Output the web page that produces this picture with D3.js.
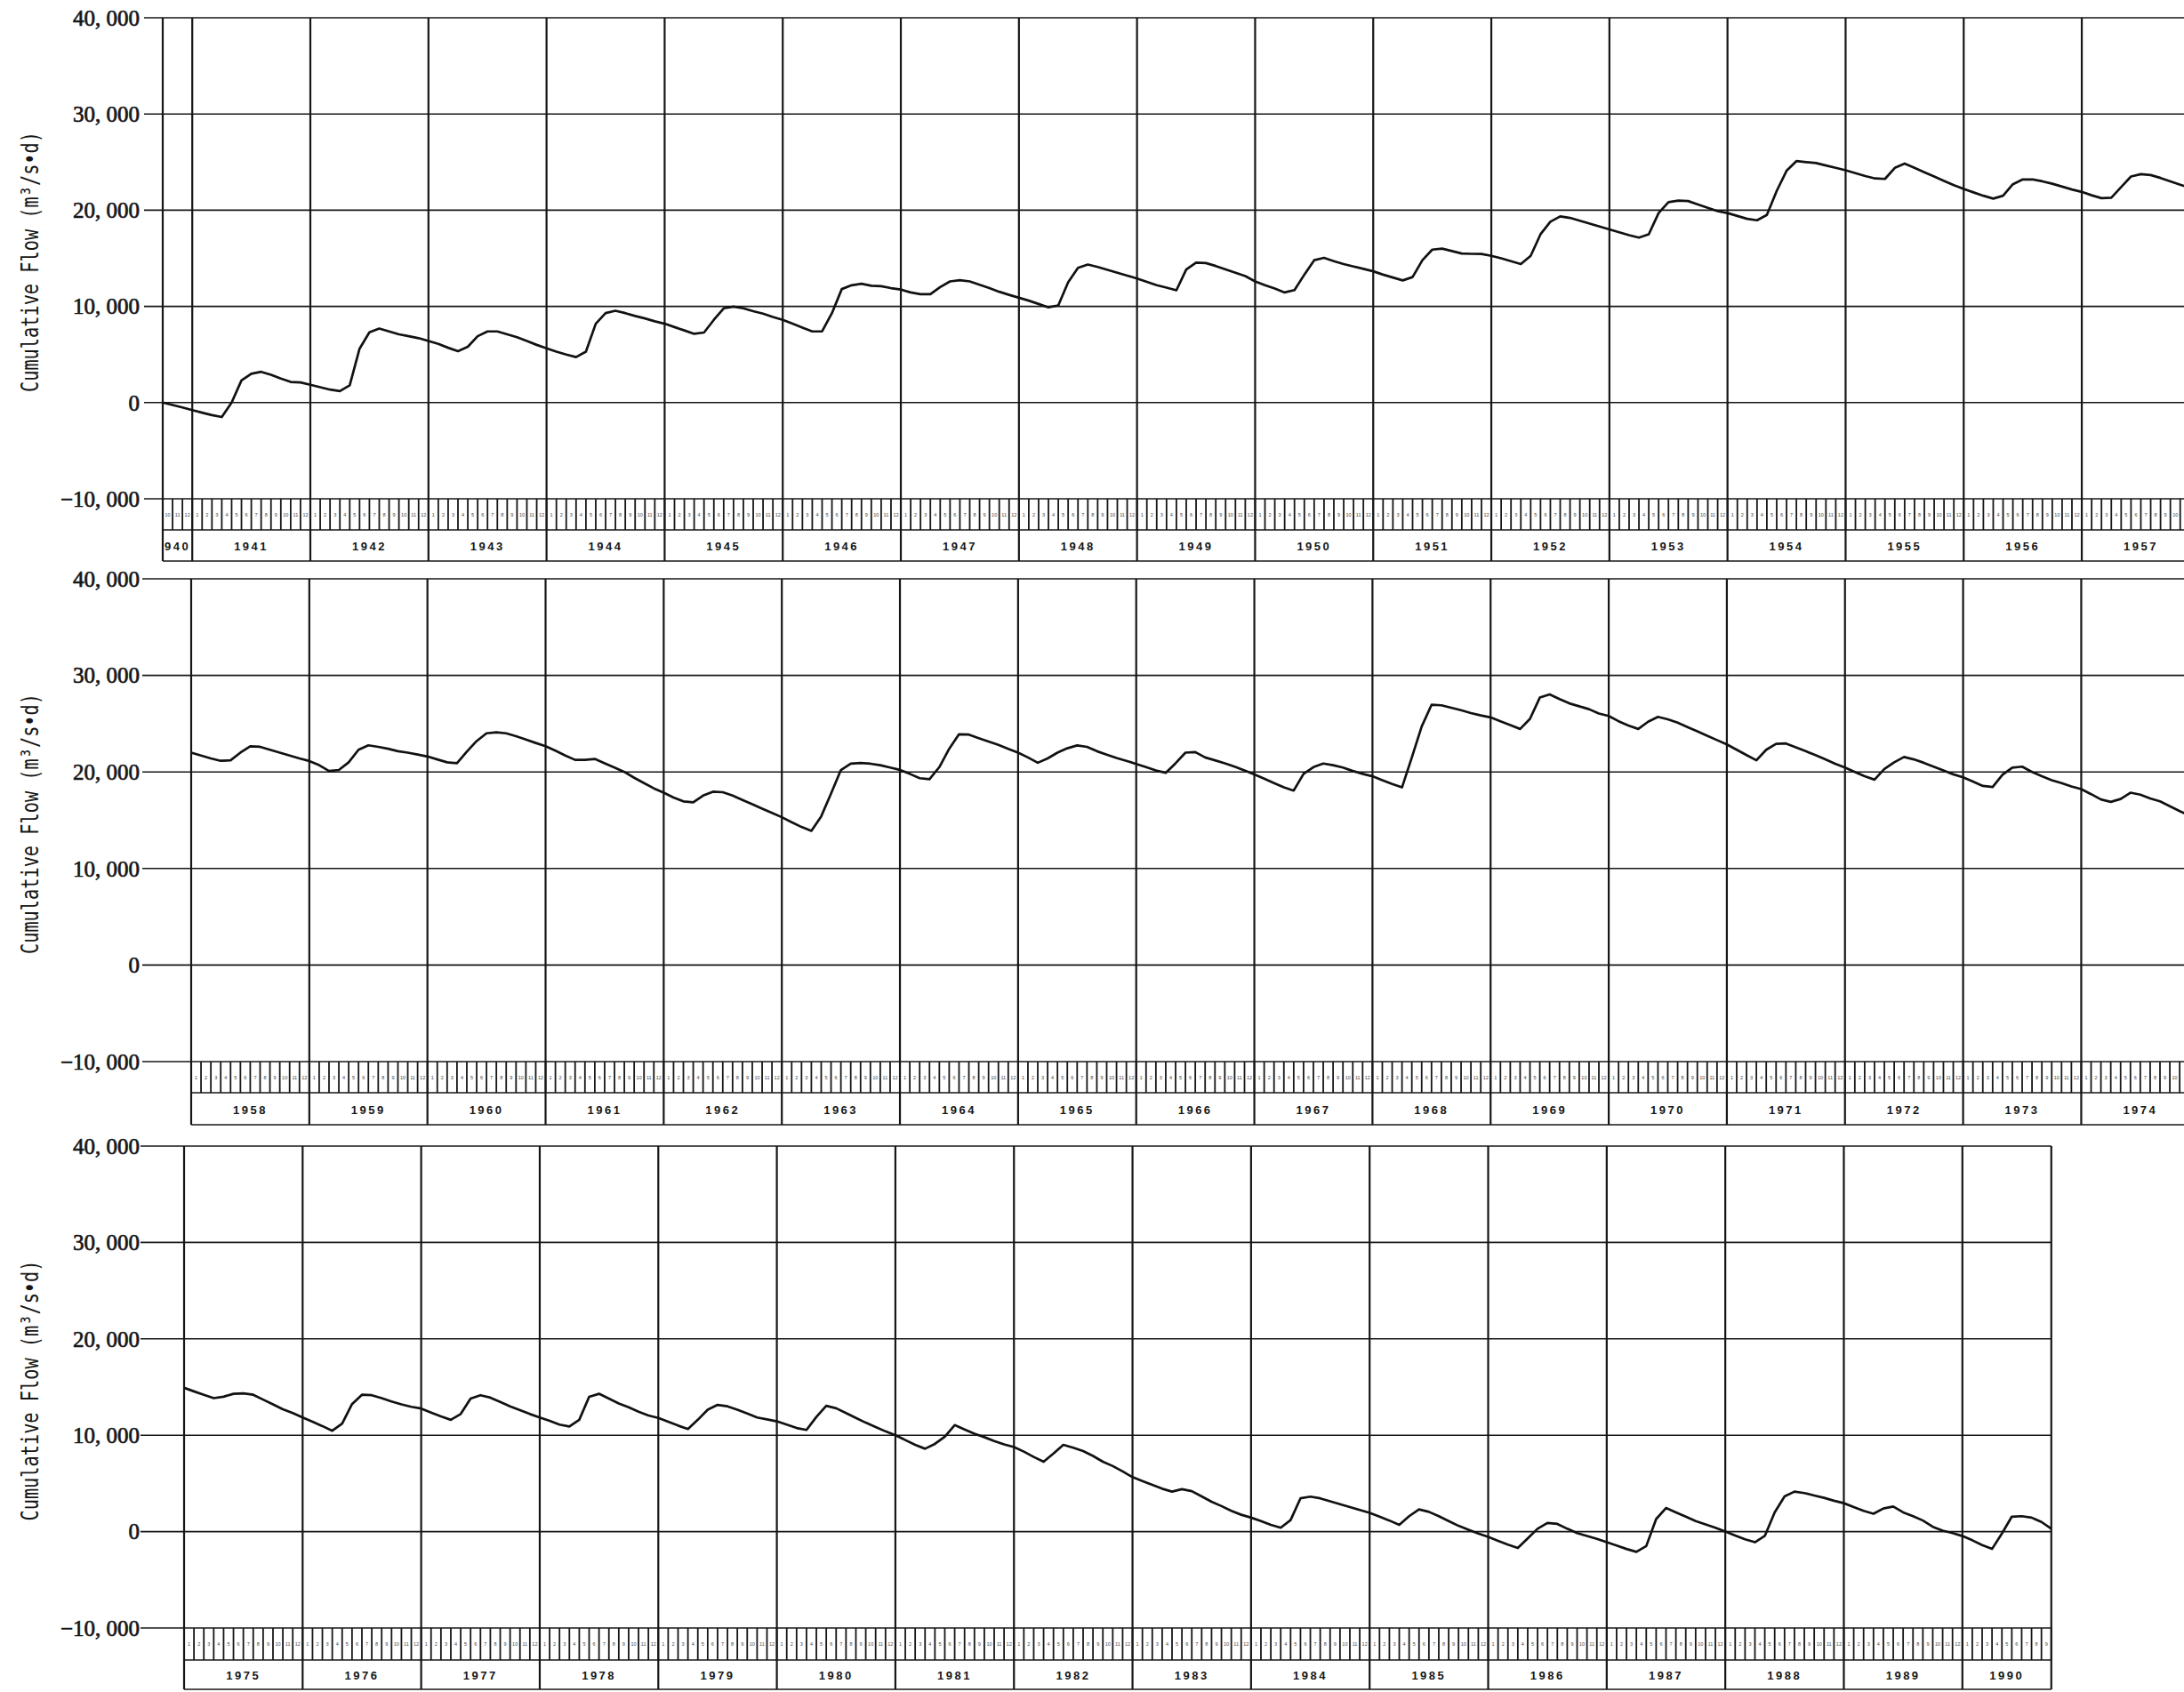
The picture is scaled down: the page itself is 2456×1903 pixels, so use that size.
<!DOCTYPE html>
<html>
<head>
<meta charset="utf-8">
<script src="https://cdn.jsdelivr.net/npm/d3@7"></script>
<style>
  html, body { margin: 0; padding: 0; background: #fff; }
  svg { display: block; }
</style>
</head>
<body>
<svg id="chart"></svg>
<script>
// Cumulative flow (m³/s·d), one value per month boundary.
// Panel 1: 1 Oct 1940 … 1 Jan 1958
const flow1940to1957 = [
  0, -250, -500,
  -780, -1050, -1300, -1500, 0, 2300, 3000, 3200, 2900, 2500, 2150, 2100,          // 1941
  1850, 1600, 1350, 1200, 1800, 5600, 7300, 7700, 7400, 7100, 6900, 6700,          // 1942
  6400, 6100, 5700, 5350, 5800, 6900, 7400, 7400, 7100, 6800, 6400, 6000,          // 1943
  5650, 5300, 5000, 4730, 5300, 8200, 9300, 9550, 9300, 9000, 8750, 8450,          // 1944
  8200, 7850, 7500, 7150, 7280, 8600, 9800, 9970, 9800, 9500, 9250, 8900,          // 1945
  8600, 8200, 7800, 7400, 7400, 9300, 11800, 12200, 12350, 12150, 12100, 11900,    // 1946
  11750, 11450, 11270, 11270, 12000, 12600, 12720, 12600, 12250, 11900, 11520, 11200, // 1947
  10900, 10600, 10250, 9900, 10100, 12500, 14000, 14350, 14100, 13800, 13500, 13200,  // 1948
  12900, 12550, 12200, 11950, 11670, 13830, 14550, 14500, 14200, 13850, 13500, 13150, // 1949
  12600, 12200, 11850, 11450, 11700, 13300, 14800, 15050, 14700, 14400, 14150, 13900, // 1950
  13650, 13300, 13000, 12700, 13050, 14800, 15900, 16000, 15750, 15500, 15460, 15450, // 1951
  15250, 15000, 14700, 14400, 15250, 17500, 18800, 19350, 19200, 18900, 18600, 18300, // 1952
  18000, 17700, 17400, 17150, 17500, 19700, 20830, 20990, 20950, 20600, 20250, 19900, // 1953
  19700, 19400, 19100, 18950, 19500, 22000, 24100, 25100, 25000, 24900, 24650, 24400, // 1954
  24150, 23850, 23550, 23300, 23250, 24400, 24850, 24400, 23950, 23500, 23050, 22600, // 1955
  22200, 21850, 21500, 21200, 21500, 22700, 23200, 23200, 23000, 22750, 22450, 22150, // 1956
  21900, 21550, 21250, 21300, 22400, 23500, 23750, 23650, 23350, 23000, 22650, 22300, // 1957
  22000
];

// Panel 2: 1 Jan 1958 … 1 Jan 1975
const flow1958to1974 = [
  22000, 21700, 21400, 21150, 21200, 22000, 22650, 22600, 22300, 22000, 21700, 21400, // 1958
  21130, 20700, 20100, 20200, 21000, 22300, 22760, 22600, 22400, 22150, 22000, 21800, // 1959
  21600, 21300, 21000, 20900, 22100, 23200, 24000, 24100, 24000, 23700, 23350, 23000, // 1960
  22670, 22200, 21700, 21250, 21250, 21350, 20900, 20450, 20000, 19400, 18850, 18300, // 1961
  17850, 17350, 16950, 16850, 17550, 17950, 17900, 17550, 17100, 16650, 16200, 15750, // 1962
  15310, 14800, 14300, 13900, 15400, 17760, 20200, 20850, 20920, 20850, 20700, 20450, // 1963
  20210, 19800, 19350, 19250, 20500, 22400, 23900, 23870, 23500, 23150, 22800, 22400, // 1964
  22000, 21500, 20950, 21400, 22000, 22450, 22750, 22600, 22150, 21800, 21450, 21150, // 1965
  20830, 20500, 20150, 19910, 20900, 22000, 22060, 21500, 21200, 20900, 20550, 20150, // 1966
  19750, 19300, 18850, 18400, 18070, 19800, 20500, 20870, 20700, 20450, 20100, 19800, // 1967
  19550, 19150, 18750, 18400, 21500, 24700, 26950, 26900, 26650, 26400, 26100, 25850, // 1968
  25650, 25250, 24850, 24450, 25500, 27700, 28030, 27550, 27100, 26800, 26500, 26050, // 1969
  25800, 25250, 24800, 24450, 25200, 25700, 25450, 25100, 24650, 24200, 23750, 23300, // 1970
  22850, 22300, 21750, 21200, 22300, 22900, 22950, 22550, 22150, 21750, 21300, 20850, // 1971
  20450, 20000, 19550, 19200, 20300, 21000, 21550, 21300, 20950, 20550, 20150, 19750, // 1972
  19450, 19000, 18550, 18450, 19700, 20450, 20550, 20000, 19550, 19150, 18850, 18500, // 1973
  18220, 17700, 17150, 16900, 17200, 17850, 17650, 17250, 16950, 16450, 15950, 15450, // 1974
  14920
];

// Panel 3: 1 Jan 1975 … 1 Oct 1990
const flow1975to1990 = [
  14920, 14550, 14200, 13850, 14000, 14300, 14350, 14200, 13700, 13200, 12700, 12300, // 1975
  11840, 11400, 10950, 10460, 11200, 13230, 14200, 14150, 13850, 13500, 13200, 12950, // 1976
  12770, 12350, 11950, 11600, 12200, 13800, 14150, 13900, 13450, 13000, 12600, 12200, // 1977
  11840, 11500, 11100, 10900, 11600, 13990, 14300, 13800, 13300, 12900, 12450, 12050, // 1978
  11800, 11400, 11000, 10650, 11600, 12650, 13150, 13000, 12650, 12250, 11840, 11650, // 1979
  11440, 11100, 10750, 10550, 11900, 13050, 12800, 12300, 11800, 11300, 10850, 10400, // 1980
  10000, 9500, 9000, 8600, 9100, 9850, 11050, 10600, 10150, 9800, 9400, 9050,         // 1981
  8770, 8300, 7750, 7250, 8100, 9000, 8700, 8350, 7850, 7250, 6800, 6250,             // 1982
  5650, 5250, 4850, 4450, 4150, 4400, 4200, 3650, 3100, 2650, 2150, 1750,             // 1983
  1450, 1100, 700, 400, 1200, 3450, 3630, 3450, 3150, 2850, 2550, 2250,               // 1984
  1950, 1550, 1150, 700, 1600, 2300, 2050, 1600, 1100, 600, 200, -200,                // 1985
  -550, -950, -1350, -1700, -700, 300, 900, 800, 300, -150, -450, -750,              // 1986
  -1100, -1450, -1800, -2100, -1500, 1300, 2450, 2000, 1550, 1100, 750, 400,          // 1987
  0, -400, -800, -1100, -450, 2000, 3650, 4150, 4000, 3750, 3500, 3200,              // 1988
  2950, 2550, 2150, 1850, 2400, 2600, 2000, 1600, 1150, 500, 100, -150,              // 1989
  -460, -900, -1400, -1800, -200, 1550, 1600, 1450, 1000, 300                        // 1990
];

const yTicks = [-10000, 0, 10000, 20000, 30000, 40000];
const monthLabels = ["1", "2", "3", "4", "5", "6", "7", "8", "9", "10", "11", "12"];
const axisTitle = "Cumulative Flow  (m³/s•d)";

// ---------------------------------------------------------------------------
const W = 2456, H = 1903;
const INK = "#161616";
const SERIF = '"Liberation Serif", "DejaVu Serif", serif';
const SANS = '"Liberation Sans", Arial, sans-serif';
const MONO = '"DejaVu Sans Mono", "Liberation Mono", monospace';

const svg = d3.select("#chart")
  .attr("width", W).attr("height", H)
  .attr("viewBox", `0 0 ${W} ${H}`);
svg.append("rect").attr("width", W).attr("height", H).attr("fill", "#fff");

// month index counted from January 1940
const monthIndex = (year, month) => (year - 1940) * 12 + (month - 1);

const panels = [
  { values: flow1940to1957, t0: monthIndex(1940, 10), t1: monthIndex(1958, 1),
    left: 183, monthW: 11.067, top: 20, bottom: 561, strip: 596, base: 631,
    tickX: 162, closeRight: false },
  { values: flow1958to1974, t0: monthIndex(1958, 1), t1: monthIndex(1975, 1),
    left: 215, monthW: 11.07, top: 651, bottom: 1194, strip: 1229, base: 1265,
    tickX: 160, closeRight: false },
  { values: flow1975to1990, t0: monthIndex(1975, 1), t1: monthIndex(1990, 10),
    left: 207, monthW: 11.11, top: 1289, bottom: 1831, strip: 1867, base: 1900,
    tickX: 158, closeRight: true }
];

const fmtTick = v => d3.format(",")(v).replace(",", ", ");

panels.forEach((p, pi) => {
  const g = svg.append("g").attr("class", "panel");
  const x = d3.scaleLinear()
    .domain([p.t0, p.t1])
    .range([p.left, p.left + (p.t1 - p.t0) * p.monthW]);
  const y = d3.scaleLinear().domain([-10000, 40000]).range([p.bottom, p.top]);
  const xEnd = x(p.t1);

  // horizontal grid lines (ticks run in from the labels)
  g.append("g").selectAll("line").data(yTicks).join("line")
    .attr("x1", p.tickX).attr("x2", xEnd)
    .attr("y1", d => y(d)).attr("y2", d => y(d))
    .attr("stroke", INK).attr("stroke-width", 1.6);

  // vertical year lines, from the top of the plot down through the strips
  const months = d3.range(p.t0, p.t1 + 1);
  const yearEdges = months.filter(t => t % 12 === 0 || t === p.t0 || (p.closeRight && t === p.t1));
  g.append("g").selectAll("line").data(yearEdges).join("line")
    .attr("x1", d => x(d)).attr("x2", d => x(d))
    .attr("y1", p.top).attr("y2", p.base)
    .attr("stroke", INK).attr("stroke-width", 2.2);

  // month strip
  g.append("line")
    .attr("x1", x(p.t0)).attr("x2", xEnd)
    .attr("y1", p.strip).attr("y2", p.strip)
    .attr("stroke", INK).attr("stroke-width", 1.6);
  g.append("g").selectAll("line").data(months).join("line")
    .attr("x1", d => x(d)).attr("x2", d => x(d))
    .attr("y1", p.bottom).attr("y2", p.strip)
    .attr("stroke", INK).attr("stroke-width", 1.8);
  // month numbers, only for cells that lie wholly on the page
  const fullCells = months.slice(0, -1).filter(t => x(t + 1) <= W - 2);
  g.append("g").selectAll("text").data(fullCells).join("text")
    .attr("x", d => x(d + 0.5)).attr("y", (p.bottom + p.strip) / 2)
    .attr("text-anchor", "middle").attr("dominant-baseline", "central")
    .attr("font-family", SANS).attr("font-size", 5.5).attr("fill", "#444")
    .text(d => monthLabels[d % 12]);

  // year label strip
  g.append("line")
    .attr("x1", x(p.t0)).attr("x2", xEnd)
    .attr("y1", p.base).attr("y2", p.base)
    .attr("stroke", INK).attr("stroke-width", 1.6);

  const clipId = `yearclip${pi}`;
  svg.append("clipPath").attr("id", clipId).append("rect")
    .attr("x", x(p.t0)).attr("y", p.strip)
    .attr("width", xEnd - x(p.t0)).attr("height", p.base - p.strip);

  const firstYear = 1940 + Math.floor(p.t0 / 12);
  const lastYear = 1940 + Math.floor((p.t1 - 1) / 12);
  const years = d3.range(firstYear, lastYear + 1);
  const span = yr => [Math.max(p.t0, monthIndex(yr, 1)), Math.min(p.t1, monthIndex(yr + 1, 1))];
  g.append("g").attr("clip-path", `url(#${clipId})`)
    .selectAll("text").data(years).join("text")
    .attr("x", yr => {
      const [a, b] = span(yr);
      // a short leading year is pushed against its right edge
      return (b - a < 6) ? x(b) - 2 : (x(a) + x(b)) / 2;
    })
    .attr("text-anchor", yr => {
      const [a, b] = span(yr);
      return (b - a < 6) ? "end" : "middle";
    })
    .attr("y", (p.strip + p.base) / 2 + 1)
    .attr("dominant-baseline", "central")
    .attr("font-family", SANS).attr("font-weight", "bold")
    .attr("font-size", 13).attr("letter-spacing", 2.5)
    .attr("fill", INK)
    .text(yr => yr);

  // y-axis tick labels
  const axis = d3.axisLeft(y).tickValues(yTicks).tickSize(0).tickPadding(0).tickFormat(fmtTick);
  const ag = g.append("g").attr("transform", "translate(157,0)").call(axis);
  ag.select(".domain").remove();
  ag.selectAll("text")
    .attr("font-family", SERIF).attr("font-size", 25)
    .attr("fill", INK).attr("stroke", INK).attr("stroke-width", 0.7)
    .attr("dy", "0.33em");

  // axis title, tall condensed lettering
  const cy = (p.top + p.bottom) / 2 + 4;
  g.append("text")
    .attr("transform", `translate(43,${cy}) rotate(-90)`)
    .attr("text-anchor", "middle")
    .attr("font-family", MONO).attr("font-size", 27)
    .attr("textLength", 293).attr("lengthAdjust", "spacingAndGlyphs")
    .attr("fill", INK)
    .text(axisTitle);

  // cumulative flow line
  const pts = p.values.map((v, i) => ({ t: p.t0 + i, v }));
  const line = d3.line().x(d => x(d.t)).y(d => y(d.v));
  g.append("path").datum(pts)
    .attr("d", line)
    .attr("fill", "none").attr("stroke", "#111")
    .attr("stroke-width", 2.7).attr("stroke-linejoin", "round");
});
</script>
</body>
</html>
